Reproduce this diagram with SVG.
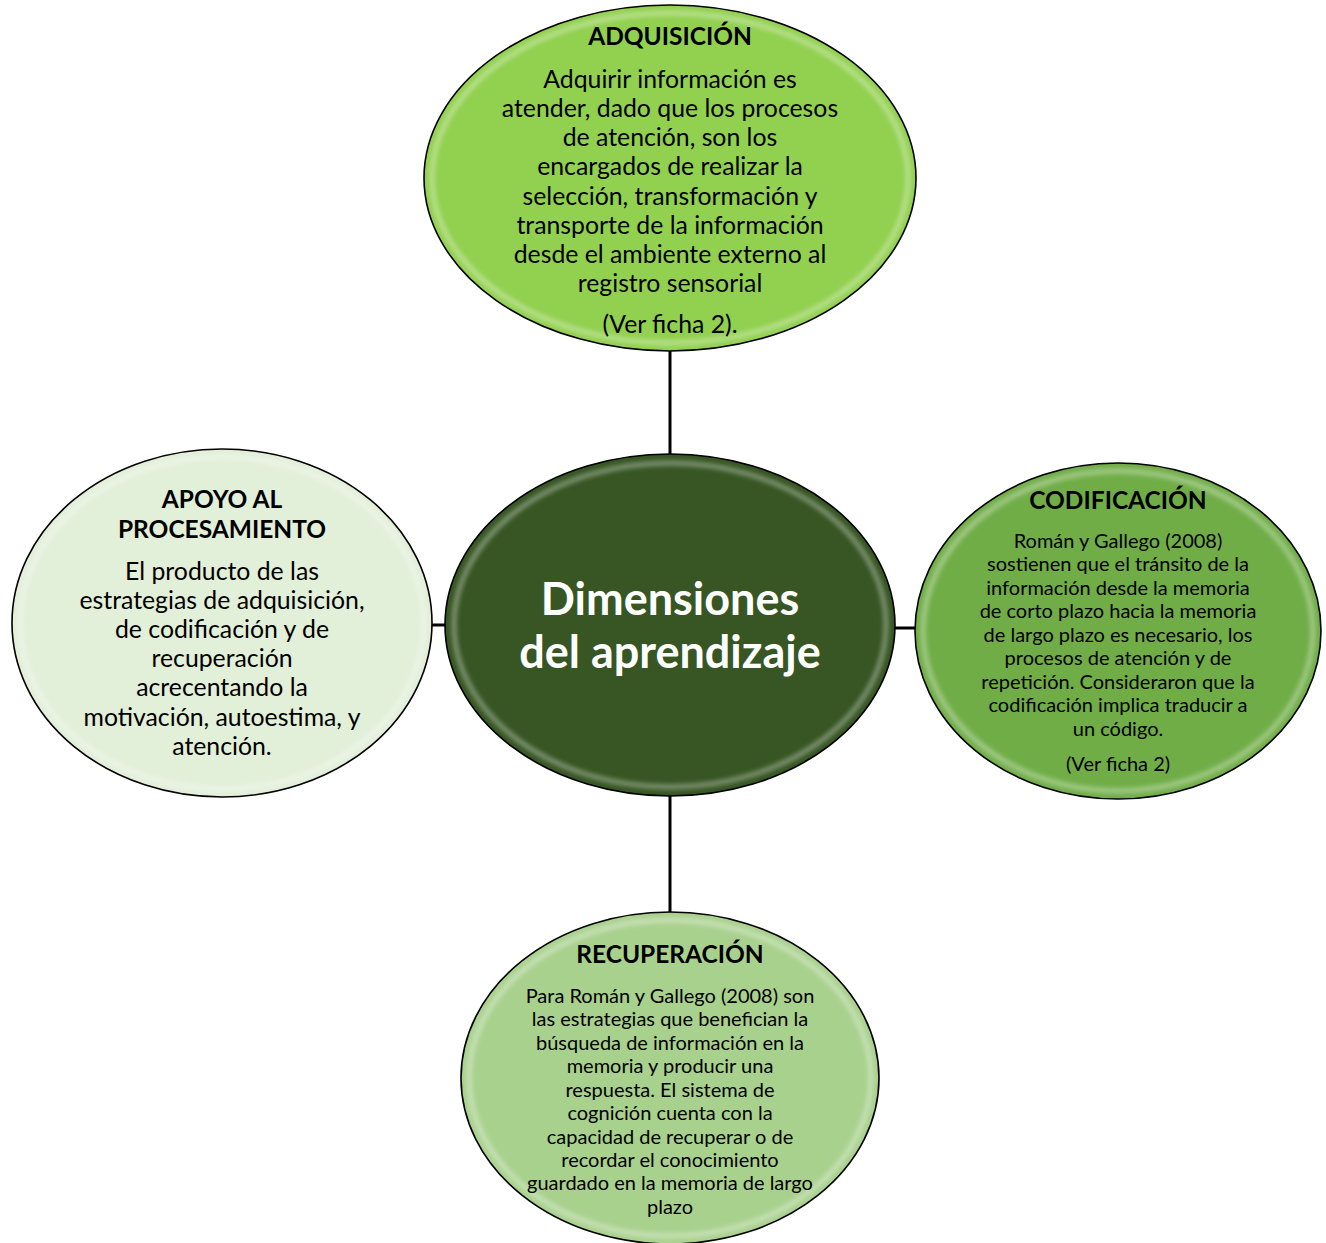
<svg xmlns="http://www.w3.org/2000/svg" width="1326" height="1243" viewBox="0 0 1326 1243">
<defs>
<filter id="gloss" x="-10%" y="-10%" width="120%" height="120%">
<feGaussianBlur stdDeviation="2.5"/>
</filter>
<style>
.node ellipse.shape{stroke:#000;stroke-width:1.6}
.hl{fill:none;stroke:#fff;stroke-width:4;opacity:0.45}
.t{font-family:Lato,"Open Sans",sans-serif;text-anchor:middle;fill:#000}
.title{font-weight:bold;font-size:24.5px}
.big{font-size:24.8px}
.small{font-size:20px}
.center{font-family:Lato,"Open Sans",sans-serif;text-anchor:middle;fill:#fff;font-weight:bold;font-size:45px}
.conn line{stroke:#000;stroke-width:3}
</style>
</defs>
<rect width="1326" height="1243" fill="#fff"/>
<g class="conn" id="connectors">
<line x1="670" y1="350" x2="670" y2="456"/>
<line x1="670" y1="794" x2="670" y2="914"/>
<line x1="430" y1="625" x2="446" y2="625"/>
<line x1="893" y1="628" x2="918" y2="628"/>
</g>
<g class="node" id="adquisicion">
<ellipse class="shape" cx="670" cy="178" rx="246" ry="173" fill="#92d050"/>
<ellipse class="hl" cx="670" cy="178" rx="238" ry="165" filter="url(#gloss)"/>
<text class="t title" x="670" y="45">ADQUISICIÓN</text>
<text class="t big" x="670" y="88">Adquirir información es</text>
<text class="t big" x="670" y="117">atender, dado que los procesos</text>
<text class="t big" x="670" y="146">de atención, son los</text>
<text class="t big" x="670" y="175">encargados de realizar la</text>
<text class="t big" x="670" y="205">selección, transformación y</text>
<text class="t big" x="670" y="234">transporte de la información</text>
<text class="t big" x="670" y="263">desde el ambiente externo al</text>
<text class="t big" x="670" y="292">registro sensorial</text>
<text class="t big" x="670" y="333">(Ver ficha 2).</text>
</g>
<g class="node" id="apoyo">
<ellipse class="shape" cx="222" cy="623" rx="210" ry="174" fill="#e2efd9"/>
<ellipse class="hl" cx="222" cy="623" rx="202" ry="166" filter="url(#gloss)"/>
<text class="t title" x="222" y="508">APOYO AL</text>
<text class="t title" x="222" y="538">PROCESAMIENTO</text>
<text class="t big" x="222" y="580">El producto de las</text>
<text class="t big" x="222" y="609">estrategias de adquisición,</text>
<text class="t big" x="222" y="638">de codificación y de</text>
<text class="t big" x="222" y="667">recuperación</text>
<text class="t big" x="222" y="696">acrecentando la</text>
<text class="t big" x="222" y="726">motivación, autoestima, y</text>
<text class="t big" x="222" y="755">atención.</text>
</g>
<g class="node" id="dimensiones">
<ellipse class="shape" cx="670" cy="625" rx="225" ry="171" fill="#375623"/>
<ellipse class="hl" cx="670" cy="625" rx="216" ry="162" filter="url(#gloss)" opacity="0.6"/>
<text class="center" x="670" y="615">Dimensiones</text>
<text class="center" x="670" y="668">del aprendizaje</text>
</g>
<g class="node" id="codificacion">
<ellipse class="shape" cx="1118" cy="631" rx="203" ry="168" fill="#70ad47"/>
<ellipse class="hl" cx="1118" cy="631" rx="195" ry="160" filter="url(#gloss)"/>
<text class="t title" x="1118" y="509">CODIFICACIÓN</text>
<text class="t small" x="1118" y="548">Román y Gallego (2008)</text>
<text class="t small" x="1118" y="571">sostienen que el tránsito de la</text>
<text class="t small" x="1118" y="595">información desde la memoria</text>
<text class="t small" x="1118" y="618">de corto plazo hacia la memoria</text>
<text class="t small" x="1118" y="642">de largo plazo es necesario, los</text>
<text class="t small" x="1118" y="665">procesos de atención y de</text>
<text class="t small" x="1118" y="689">repetición. Consideraron que la</text>
<text class="t small" x="1118" y="712">codificación implica traducir a</text>
<text class="t small" x="1118" y="736">un código.</text>
<text class="t small" x="1118" y="771">(Ver ficha 2)</text>
</g>
<g class="node" id="recuperacion">
<ellipse class="shape" cx="670" cy="1078" rx="209" ry="166" fill="#a9d18e"/>
<ellipse class="hl" cx="670" cy="1078" rx="201" ry="158" filter="url(#gloss)"/>
<text class="t title" x="670" y="963">RECUPERACIÓN</text>
<text class="t small" x="670" y="1003">Para Román y Gallego (2008) son</text>
<text class="t small" x="670" y="1026">las estrategias que benefician la</text>
<text class="t small" x="670" y="1050">búsqueda de información en la</text>
<text class="t small" x="670" y="1073">memoria y producir una</text>
<text class="t small" x="670" y="1097">respuesta. El sistema de</text>
<text class="t small" x="670" y="1120">cognición cuenta con la</text>
<text class="t small" x="670" y="1144">capacidad de recuperar o de</text>
<text class="t small" x="670" y="1167">recordar el conocimiento</text>
<text class="t small" x="670" y="1190">guardado en la memoria de largo</text>
<text class="t small" x="670" y="1214">plazo</text>
</g>
</svg>
